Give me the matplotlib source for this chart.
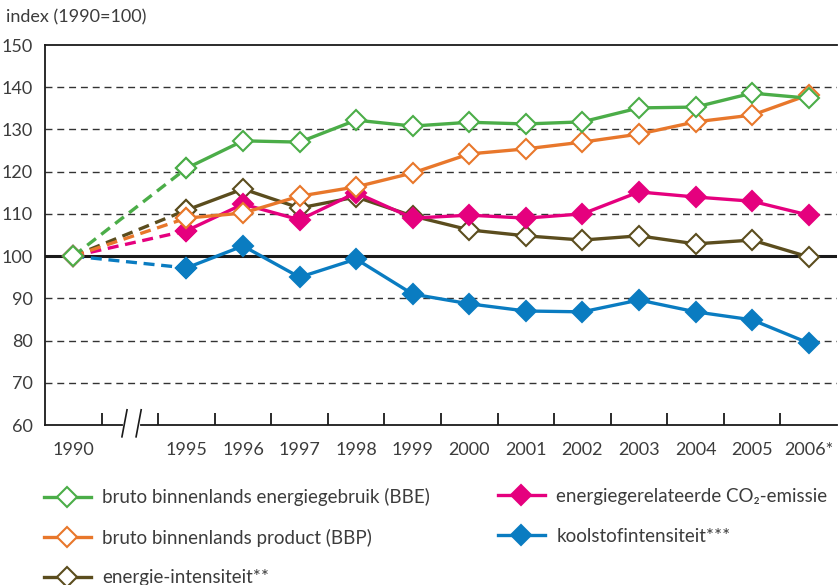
import numpy as np
import matplotlib
matplotlib.use("Agg")
import matplotlib.pyplot as plt
from matplotlib.lines import Line2D

plt.rcParams['font.family'] = ['Lato', 'DejaVu Sans']

# ---------------------------------------------------------------
# data (index 1990 = 100)
# ---------------------------------------------------------------
years = ['1990', '1995', '1996', '1997', '1998', '1999', '2000',
         '2001', '2002', '2003', '2004', '2005', '2006*']
bbe = [100, 120.8, 127.3, 127.0, 132.2, 130.8, 131.7, 131.3, 131.8, 135.1, 135.3, 138.6, 137.4]
bbp = [100, 109.0, 110.2, 114.2, 116.4, 119.7, 124.2, 125.4, 127.0, 128.9, 131.8, 133.4, 138.2]
co2 = [100, 106.0, 112.3, 108.6, 115.0, 109.0, 109.7, 109.0, 110.0, 115.2, 114.0, 113.0, 109.7]
koolstof = [100, 97.2, 102.4, 95.0, 99.3, 91.0, 88.7, 87.0, 86.8, 89.6, 86.8, 84.9, 79.4]
intensiteit = [100, 110.9, 115.9, 111.4, 114.0, 109.5, 106.2, 104.8, 103.8, 104.8, 102.9, 103.8, 99.8]

labels = ['bruto binnenlands energiegebruik (BBE)',
          'bruto binnenlands product (BBP)',
          'energie-intensiteit**',
          'energiegerelateerde CO\u2082-emissie',
          'koolstofintensiteit***']

# position on the axis: 1990 at 0, an empty slot for the break, then 1995..2006
xpos = np.array([0] + list(range(2, 14)))

GREEN = '#4bad48'
ORANGE = '#e8772b'
MAGENTA = '#e5007e'
BLUE = '#0a7cc1'
OLIVE = '#5b4d1e'
TXT = '#3c3c3c'
FS = 13

fig = plt.figure(figsize=(8.38, 5.85), dpi=100)
ax = fig.add_axes([45 / 838, 1 - 425 / 585, 792 / 838, 380 / 585])

ax.set_xlim(-0.5, 13.5)
ax.set_ylim(60, 150)

# gridlines
for g in [70, 80, 90, 110, 120, 130, 140]:
    ax.axhline(g, color='#333333', lw=1.0, ls=(0, (5, 3.5)), zorder=1)
ax.axhline(100, color='#1a1a1a', lw=2.2, zorder=1.5)


def draw_series(vals, color, filled, label):
    face = color if filled else 'white'
    kw = dict(color=color, lw=2.4, marker='D', markersize=10.5,
              markerfacecolor=face, markeredgecolor=color, markeredgewidth=1.5)
    ax.plot(xpos[:2], vals[:2], ls=(0, (3.3, 2)), zorder=3, **kw)
    ax.plot(xpos[1:], vals[1:], ls='-', zorder=3, **kw)
    return Line2D([], [], label=label, **kw)


h_ko = draw_series(koolstof, BLUE, True, labels[4])
h_ei = draw_series(intensiteit, OLIVE, False, labels[2])
h_co = draw_series(co2, MAGENTA, True, labels[3])
h_bp = draw_series(bbp, ORANGE, False, labels[1])
h_be = draw_series(bbe, GREEN, False, labels[0])

# spines
ax.spines['right'].set_visible(False)
for s in ['left', 'bottom', 'top']:
    ax.spines[s].set_linewidth(1.3)
    ax.spines[s].set_color('#1a1a1a')

# y ticks
ax.set_yticks(range(60, 151, 10))
ax.tick_params(axis='y', length=0, pad=9, labelsize=FS, labelcolor=TXT)

# x ticks: boundaries as inward ticks, labels at centres
ax.set_xticks(np.arange(0.5, 13, 1.0))
ax.set_xticklabels([])
ax.tick_params(axis='x', which='major', direction='in', length=9, width=1.3, color='#1a1a1a')
ax.set_xticks(xpos, minor=True)
ax.set_xticklabels(years, minor=True)
ax.tick_params(axis='x', which='minor', length=0, pad=12, labelsize=FS, labelcolor=TXT)

# axis break
ax.plot([0.91, 1.15], [60, 60], color='white', lw=3, clip_on=False, zorder=4)
for x0 in [0.86, 1.11]:
    ax.plot([x0, x0 + 0.09], [57.2, 63.6], color='#1a1a1a', lw=1.2, clip_on=False, zorder=5)

fig.text(6 / 838, 1 - 17 / 585, 'index (1990=100)', fontsize=FS, color=TXT, va='center', ha='left')

# legend
leg_kw = dict(frameon=False, fontsize=13.5, labelcolor=TXT, handlelength=2.5,
              handletextpad=0.62, labelspacing=1.2, borderaxespad=0, borderpad=0)
fig.legend(handles=[h_be, h_bp, h_ei], loc='upper left',
           bbox_to_anchor=(44 / 838, 1 - 488 / 585), **leg_kw)
fig.legend(handles=[h_co, h_ko], loc='upper left',
           bbox_to_anchor=(498 / 838, 1 - 488 / 585), **leg_kw)

fig.savefig('out.png', dpi=100)
